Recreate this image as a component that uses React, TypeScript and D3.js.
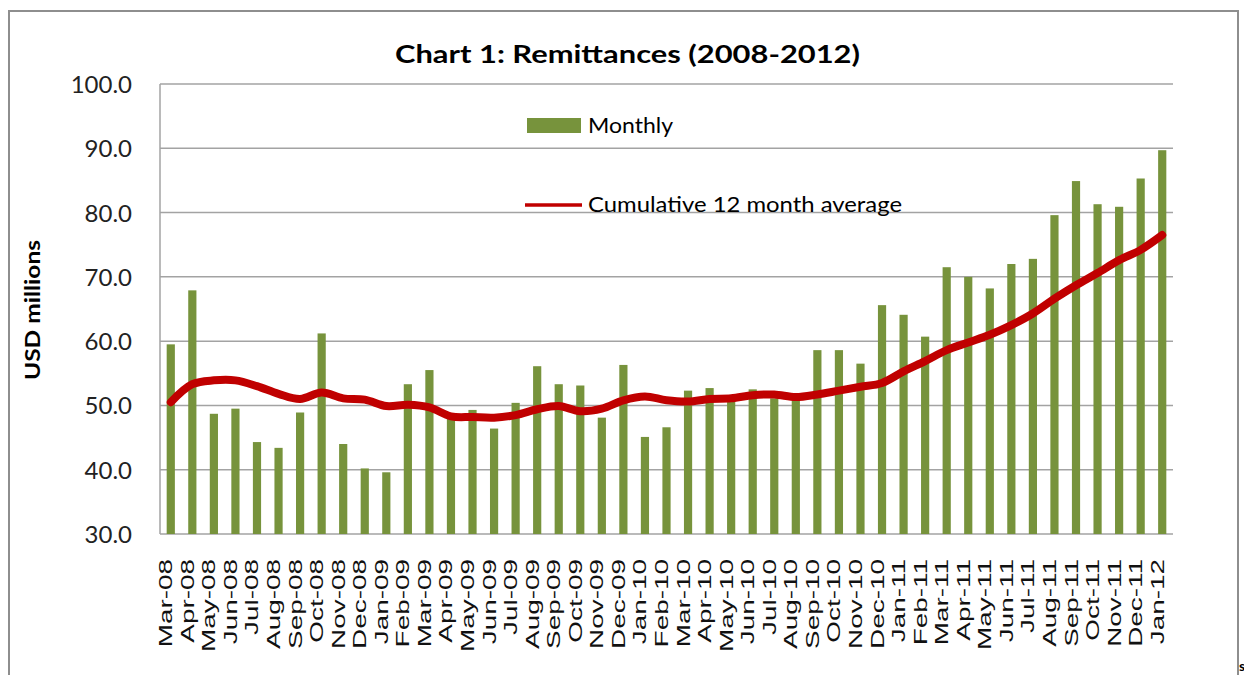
import React from "react";
import * as d3 from "d3";

const months = [
  "Mar-08","Apr-08","May-08","Jun-08","Jul-08","Aug-08","Sep-08","Oct-08","Nov-08","Dec-08",
  "Jan-09","Feb-09","Mar-09","Apr-09","May-09","Jun-09","Jul-09","Aug-09","Sep-09","Oct-09","Nov-09","Dec-09",
  "Jan-10","Feb-10","Mar-10","Apr-10","May-10","Jun-10","Jul-10","Aug-10","Sep-10","Oct-10","Nov-10","Dec-10",
  "Jan-11","Feb-11","Mar-11","Apr-11","May-11","Jun-11","Jul-11","Aug-11","Sep-11","Oct-11","Nov-11","Dec-11",
  "Jan-12",
];

const monthly = [
  59.5, 67.9, 48.7, 49.5, 44.3, 43.4, 48.9, 61.2, 44.0, 40.2,
  39.6, 53.3, 55.5, 48.0, 49.3, 46.4, 50.4, 56.1, 53.3, 53.1, 48.1, 56.3,
  45.1, 46.6, 52.3, 52.7, 50.9, 52.5, 51.1, 51.2, 58.6, 58.6, 56.5, 65.6,
  64.1, 60.7, 71.5, 70.0, 68.2, 72.0, 72.8, 79.6, 84.9, 81.3, 80.9, 85.3,
  89.7,
];

const average12 = [
  50.5, 53.3, 53.9, 53.9, 53.0, 51.8, 51.0, 52.0, 51.1, 50.9,
  49.9, 50.1, 49.7, 48.3, 48.2, 48.1, 48.5, 49.4, 49.9, 49.1, 49.5, 50.8,
  51.4, 50.8, 50.6, 51.0, 51.1, 51.6, 51.7, 51.3, 51.7, 52.3, 52.9, 53.5,
  55.3, 56.9, 58.6, 59.8, 61.0, 62.5, 64.3, 66.6, 68.7, 70.6, 72.6, 74.2,
  76.5,
];

const yTicks = [30, 40, 50, 60, 70, 80, 90, 100];

const title = "Chart 1: Remittances (2008-2012)";
const yTitle = "USD millions";
const seriesNames = ["Monthly", "Cumulative 12 month average"];

const W = 1244;
const H = 675;
const plot = { left: 160, right: 1173, top: 84, bottom: 534 };
const GREEN = "#77933C";
const RED = "#C00000";
const GRID = "#A3A3A3";
const CAL = "Lato, 'Open Sans', sans-serif";

export default function App() {
  const x = d3
    .scaleBand<string>()
    .domain(months)
    .range([plot.left, plot.right])
    .paddingInner(0.62)
    .paddingOuter(0.31);
  const y = d3.scaleLinear().domain([30, 100]).range([plot.bottom, plot.top]);
  const cx = (m: string) => (x(m) as number) + x.bandwidth() / 2;

  const line = d3
    .line<number>()
    .x((_, i) => cx(months[i]))
    .y((d) => y(d))
    .curve(d3.curveCatmullRom.alpha(0.5));

  return (
    <svg
      width={W}
      height={H}
      style={{ position: "absolute", left: 0, top: 0, background: "#fff" }}
    >
      <rect x={0} y={0} width={W} height={H} fill="#fff" />
      <rect
        x={9}
        y={11}
        width={1229}
        height={H + 20}
        fill="none"
        stroke="#8E8E8E"
        strokeWidth={2}
      />
      <text
        x={627.5}
        y={63}
        textAnchor="middle"
        fontFamily={CAL}
        fontWeight="bold"
        fontSize={25}
        fill="#000"
        textLength={465}
        lengthAdjust="spacingAndGlyphs"
      >
        {title}
      </text>

      {/* gridlines */}
      {yTicks.map((t) => (
        <line
          key={"g" + t}
          x1={plot.left}
          x2={plot.right}
          y1={y(t)}
          y2={y(t)}
          stroke={GRID}
          strokeWidth={1.5}
        />
      ))}
      <line
        x1={plot.left}
        x2={plot.left}
        y1={plot.top}
        y2={plot.bottom}
        stroke={GRID}
        strokeWidth={1.5}
      />

      {/* y tick labels */}
      {yTicks.map((t) => (
        <text
          key={"t" + t}
          x={132}
          y={y(t) + 9}
          textAnchor="end"
          fontFamily={CAL}
          fontSize={24}
          fill="#222"
        >
          {t.toFixed(1)}
        </text>
      ))}

      <text
        transform={`translate(40,310) rotate(-90)`}
        textAnchor="middle"
        fontFamily={CAL}
        fontWeight="bold"
        fontSize={20}
        fill="#000"
        textLength={140}
        lengthAdjust="spacingAndGlyphs"
      >
        {yTitle}
      </text>

      {/* bars */}
      {monthly.map((v, i) => (
        <rect
          key={"b" + i}
          x={x(months[i])}
          y={y(v)}
          width={x.bandwidth()}
          height={y(30) - y(v)}
          fill={GREEN}
        />
      ))}

      {/* line */}
      <path
        d={line(average12) || ""}
        fill="none"
        stroke={RED}
        strokeWidth={8}
        strokeLinejoin="round"
        strokeLinecap="round"
      />

      {/* x labels */}
      {months.map((m) => (
        <text
          key={"x" + m}
          transform={`translate(${cx(m) + 1.5},559) rotate(-90) scale(1.55,1)`}
          textAnchor="end"
          fontFamily="'Liberation Sans', Arial, sans-serif"
          fontSize={18}
          fill="#111"
        >
          {m}
        </text>
      ))}

      {/* legend */}
      <rect x={527} y={118} width={54} height={15} fill={GREEN} />
      <text
        x={588}
        y={133}
        fontFamily={CAL}
        fontSize={21}
        fill="#000"
        textLength={85}
        lengthAdjust="spacingAndGlyphs"
      >
        {seriesNames[0]}
      </text>
      <line x1={525} x2={582} y1={205} y2={205} stroke={RED} strokeWidth={3.5} />
      <text
        x={588}
        y={212}
        fontFamily={CAL}
        fontSize={21}
        fill="#000"
        textLength={314}
        lengthAdjust="spacingAndGlyphs"
      >
        {seriesNames[1]}
      </text>

      <text x={1239} y={671} fontFamily={CAL} fontWeight="bold" fontSize={14} fill="#000">
        s
      </text>
    </svg>
  );
}
